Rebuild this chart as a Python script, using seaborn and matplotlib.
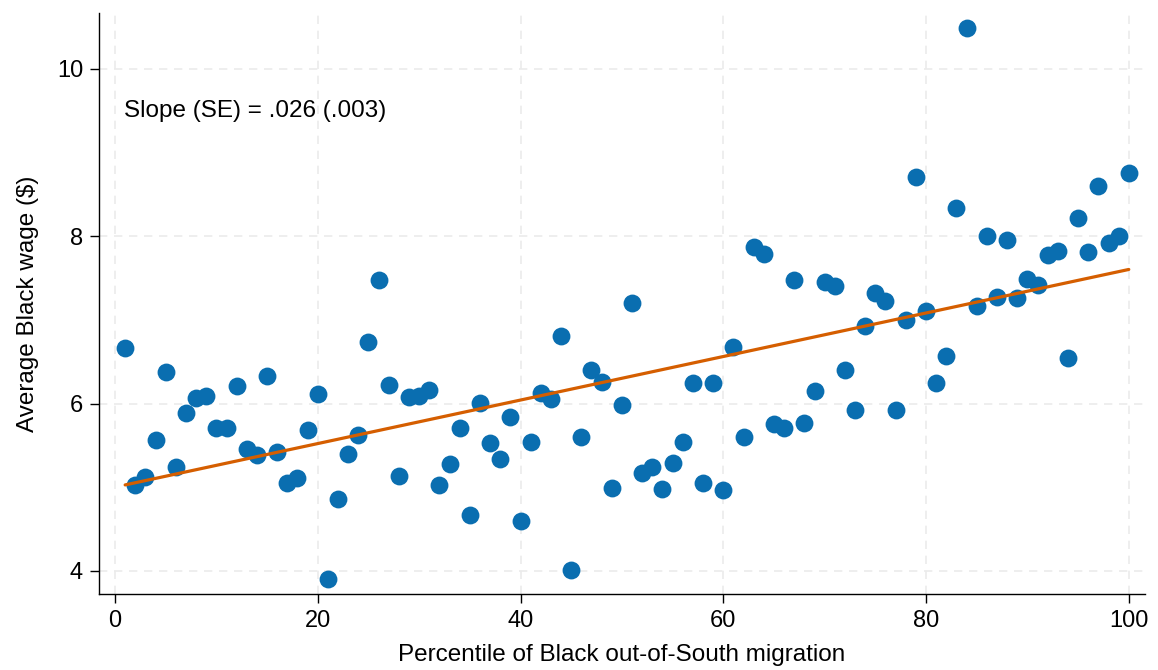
import numpy as np
import pandas as pd
import matplotlib
matplotlib.use("Agg")
import matplotlib.pyplot as plt
import seaborn as sns

percentile = list(range(1, 101))
black_wage = [
    6.67, 5.03, 5.12, 5.57, 6.38, 5.24, 5.89, 6.07, 6.09, 5.71,
    5.71, 6.21, 5.46, 5.39, 6.33, 5.42, 5.05, 5.11, 5.69, 6.12,
    3.90, 4.86, 5.40, 5.63, 6.74, 7.48, 6.22, 5.14, 6.08, 6.09,
    6.16, 5.03, 5.28, 5.71, 4.67, 6.01, 5.53, 5.34, 5.84, 4.60,
    5.54, 6.13, 6.06, 6.81, 4.01, 5.60, 6.40, 6.26, 4.99, 5.98,
    7.20, 5.17, 5.24, 4.98, 5.29, 5.54, 6.24, 5.05, 6.25, 4.97,
    6.68, 5.60, 7.87, 7.79, 5.76, 5.71, 7.48, 5.77, 6.15, 7.45,
    7.41, 6.40, 5.92, 6.93, 7.32, 7.22, 5.92, 7.00, 8.71, 7.11,
    6.25, 6.57, 8.34, 10.49, 7.16, 8.00, 7.27, 7.96, 7.26, 7.49,
    7.42, 7.77, 7.82, 6.55, 8.22, 7.81, 8.60, 7.92, 8.00, 8.75,
]
x_ticks = [0, 20, 40, 60, 80, 100]
y_ticks = [4, 6, 8, 10]
slope_text = "Slope (SE) = .026 (.003)"

df = pd.DataFrame({"pct": percentile, "wage": black_wage})

sns.set_theme(style="white")
plt.rcParams["font.family"] = ["Liberation Sans", "DejaVu Sans"]
plt.rcParams["text.color"] = "black"
plt.rcParams["axes.labelcolor"] = "black"
plt.rcParams["xtick.color"] = "black"
plt.rcParams["ytick.color"] = "black"

fig = plt.figure(figsize=(11.58, 6.70), dpi=100)
# axes box in pixels: left 99, right 1145, top 12.7, bottom 594
ax = fig.add_axes([99 / 1158, 1 - 594 / 670, 1046 / 1158, 581.3 / 670])

sns.regplot(
    data=df, x="pct", y="wage", ax=ax, ci=None, truncate=True,
    scatter_kws=dict(s=165, color="#0a6eb0", alpha=1, linewidths=0, zorder=3),
    line_kws=dict(color="#d55e00", linewidth=2.3, zorder=4),
)

ax.set_xlim(-1.58, 101.6)
ax.set_ylim(3.725, 10.67)
ax.set_xticks(x_ticks)
ax.set_yticks(y_ticks)
ax.grid(True, color="#ebebeb", linestyle=(0, (5, 4)), linewidth=1.2)
ax.set_axisbelow(True)

for side in ["top", "right"]:
    ax.spines[side].set_visible(False)
for side in ["left", "bottom"]:
    ax.spines[side].set_color("black")
    ax.spines[side].set_linewidth(1.0)

ax.tick_params(axis="both", which="major", direction="out", length=6.5,
               width=1, labelsize=17, pad=5, bottom=True, left=True)
ax.set_xlabel("Percentile of Black out-of-South migration", fontsize=17.5, labelpad=9)
ax.set_ylabel("Average Black wage ($)", fontsize=17.5, labelpad=13)

ax.text(0.9, 9.49, slope_text, fontsize=17.5, ha="left", va="center")

fig.savefig("out.png", dpi=100)
plt.close(fig)
